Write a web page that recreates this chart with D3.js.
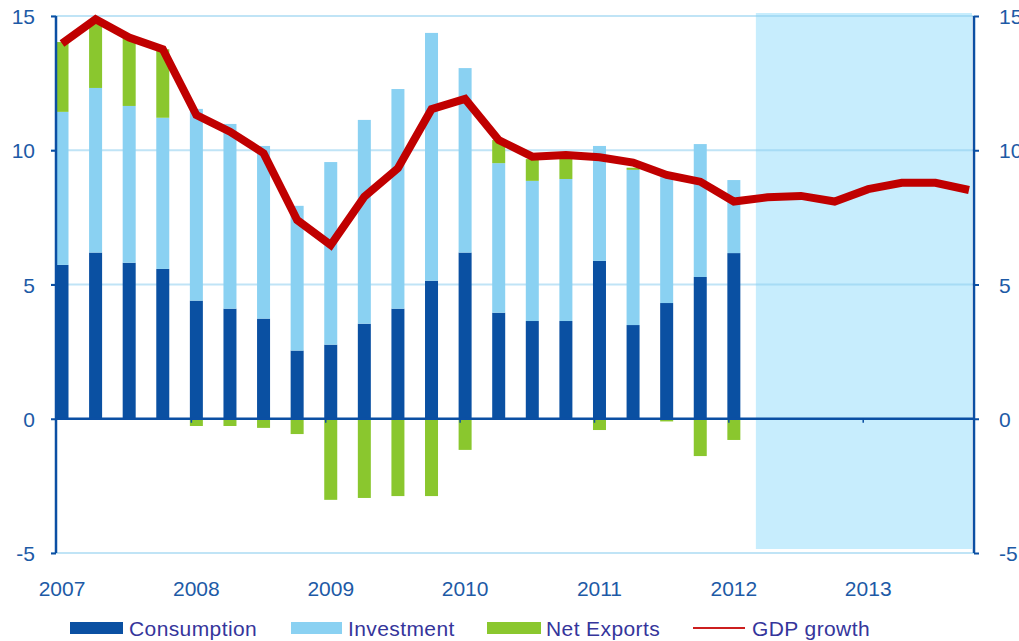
<!DOCTYPE html>
<html>
<head>
<meta charset="utf-8">
<script src="https://cdn.jsdelivr.net/npm/d3@7"></script>
<style>
  html, body { margin: 0; padding: 0; background: #ffffff; }
  svg { display: block; }
  text { font-family: Arial, "Liberation Sans", sans-serif; }
</style>
</head>
<body>
<svg id="chart" width="1019" height="641"></svg>
<script>
// ---- Data ----
const quarters = [];
["2007","2008","2009","2010","2011","2012","2013"].forEach(y => ["Q1","Q2","Q3","Q4"].forEach(q => quarters.push(y + q)));
const barQuarters = quarters.slice(0, 21); // 2007Q1 .. 2012Q1
const yearLabels = ["2007","2008","2009","2010","2011","2012","2013"];
const yTicks = [-5, 0, 5, 10, 15];
const yTickLabels = ["-5", "0", "5", "10", "15"];

const consumption = [5.73, 6.19, 5.81, 5.58, 4.40, 4.10, 3.73, 2.54, 2.76, 3.54, 4.10, 5.14, 6.19, 3.95, 3.64, 3.64, 5.88, 3.49, 4.31, 5.28, 6.17];
const investment  = [5.70, 6.13, 5.84, 5.63, 7.14, 6.88, 6.43, 5.39, 6.80, 7.59, 8.18, 9.23, 6.87, 5.57, 5.22, 5.29, 4.28, 5.78, 4.69, 4.95, 2.72];
const netExports  = [2.60, 2.55, 2.55, 2.55, -0.27, -0.27, -0.34, -0.57, -3.02, -2.95, -2.88, -2.88, -1.16, 0.86, 0.81, 0.78, -0.42, 0.08, -0.10, -1.39, -0.79];
const gdpGrowth   = [13.98, 14.88, 14.20, 13.76, 11.31, 10.69, 9.89, 7.40, 6.47, 8.27, 9.33, 11.53, 11.91, 10.38, 9.76, 9.82, 9.74, 9.54, 9.08, 8.83, 8.09, 8.25, 8.30, 8.09, 8.55, 8.79, 8.79, 8.52];
const forecastStart = "2012Q1";
const forecastEnd = "2013Q4";

const seriesNames = ["Consumption", "Investment", "Net Exports", "GDP growth"];
const colors = { cons: "#0a50a2", inv: "#8ad1f2", nx: "#8ac72e", gdp: "#c00000", axis: "#0b4fa3", tick: "#1d5aa6", legend: "#35359b", shade: "#c7edfd" };

// ---- Scales ----
const svg = d3.select("#chart");
const x = d3.scalePoint().domain(quarters).range([62, 969]);
const y = d3.scaleLinear().domain([-5, 15]).range([553, 16]);
const axL = 56, axR = 974;
const barW = 13;
const fmt = d => yTickLabels[yTicks.indexOf(d)];

// Forecast shading
svg.append("rect")
  .attr("x", x(forecastStart) + 22)
  .attr("y", y(15) - 3)
  .attr("width", x(forecastEnd) + 3 - (x(forecastStart) + 22))
  .attr("height", y(-5) - 4 - (y(15) - 3))
  .attr("fill", colors.shade);

// Gridlines
svg.append("g").selectAll("line")
  .data(yTicks.filter(d => d !== 0))
  .join("line")
  .attr("x1", axL - 5).attr("x2", axR)
  .attr("y1", d => y(d)).attr("y2", d => y(d))
  .attr("stroke", "rgba(140,205,238,0.55)")
  .attr("stroke-width", 2);

// Bars
const barData = barQuarters.map((q, i) => ({ q, c: consumption[i], inv: investment[i], nx: netExports[i] }));
const gBars = svg.append("g");
gBars.selectAll(".cons").data(barData).join("rect")
  .attr("x", d => x(d.q) - barW / 2).attr("width", barW)
  .attr("y", d => y(d.c)).attr("height", d => y(0) - y(d.c))
  .attr("fill", colors.cons);
gBars.selectAll(".inv").data(barData).join("rect")
  .attr("x", d => x(d.q) - barW / 2).attr("width", barW)
  .attr("y", d => y(d.c + d.inv)).attr("height", d => y(d.c) - y(d.c + d.inv))
  .attr("fill", colors.inv);
gBars.selectAll(".nx").data(barData).join("rect")
  .attr("x", d => x(d.q) - barW / 2).attr("width", barW)
  .attr("y", d => d.nx >= 0 ? y(d.c + d.inv + d.nx) : y(0))
  .attr("height", d => d.nx >= 0 ? y(d.c + d.inv) - y(d.c + d.inv + d.nx) : y(d.nx) - y(0))
  .attr("fill", colors.nx);

// Zero line
svg.append("line")
  .attr("x1", axL).attr("x2", axR)
  .attr("y1", y(0)).attr("y2", y(0))
  .attr("stroke", colors.axis).attr("stroke-width", 2.5);

// small x ticks at year starts
svg.append("g").selectAll("line")
  .data(yearLabels.slice(1))
  .join("line")
  .attr("x1", d => x(d + "Q1") - 5).attr("x2", d => x(d + "Q1") - 5)
  .attr("y1", y(0)).attr("y2", y(0) + 4)
  .attr("stroke", colors.axis).attr("stroke-width", 1.5);

// Left axis
const leftAxis = svg.append("g").attr("transform", `translate(${axL},0)`)
  .call(d3.axisLeft(y).tickValues(yTicks).tickSize(5).tickPadding(16).tickFormat(fmt));
leftAxis.select(".domain").attr("stroke", colors.axis).attr("stroke-width", 2.5).attr("d", `M0,${y(15)}V${y(-5)}`);
leftAxis.selectAll(".tick line").attr("stroke", colors.axis).attr("stroke-width", 2);
leftAxis.selectAll(".tick text").attr("fill", colors.tick).style("font-size", "21px").attr("dy", "0.36em")
  .style("font-family", "Arial, 'Liberation Sans', sans-serif");

// Right axis
const rightAxis = svg.append("g").attr("transform", `translate(${axR},0)`)
  .call(d3.axisRight(y).tickValues(yTicks).tickSize(5).tickPadding(20).tickFormat(fmt));
rightAxis.select(".domain").attr("stroke", colors.axis).attr("stroke-width", 2.5).attr("d", `M0,${y(15)}V${y(-5)}`);
rightAxis.selectAll(".tick line").attr("stroke", colors.axis).attr("stroke-width", 2);
rightAxis.selectAll(".tick text").attr("fill", colors.tick).style("font-size", "21px").attr("dy", "0.36em")
  .style("font-family", "Arial, 'Liberation Sans', sans-serif");

// X labels
svg.append("g").selectAll("text")
  .data(yearLabels)
  .join("text")
  .attr("x", d => x(d + "Q1"))
  .attr("y", 596)
  .attr("text-anchor", "middle")
  .attr("fill", colors.tick)
  .style("font-size", "21px")
  .text(d => d);

// GDP line
svg.append("path")
  .datum(gdpGrowth)
  .attr("fill", "none")
  .attr("stroke", colors.gdp)
  .attr("stroke-width", 8)
  .attr("stroke-linejoin", "miter")
  .attr("d", d3.line().x((d, i) => x(quarters[i])).y(d => y(d)));

// Legend
const leg = svg.append("g");
const legItems = [
  { name: seriesNames[0], type: "rect", color: colors.cons, sx: 70, sw: 53, tx: 129 },
  { name: seriesNames[1], type: "rect", color: colors.inv, sx: 291, sw: 51, tx: 348 },
  { name: seriesNames[2], type: "rect", color: colors.nx, sx: 487, sw: 54, tx: 546 },
  { name: seriesNames[3], type: "line", color: "#cc1f1f", sx: 693, sw: 52, tx: 752 }
];
legItems.forEach(it => {
  if (it.type === "rect") {
    leg.append("rect").attr("x", it.sx).attr("y", 622).attr("width", it.sw).attr("height", 12).attr("fill", it.color);
  } else {
    leg.append("line").attr("x1", it.sx).attr("x2", it.sx + it.sw).attr("y1", 628).attr("y2", 628)
      .attr("stroke", it.color).attr("stroke-width", 2);
  }
  leg.append("text").attr("x", it.tx).attr("y", 636)
    .attr("fill", colors.legend).style("font-size", "21px").style("letter-spacing", "0.4px")
    .text(it.name);
});
</script>
</body>
</html>
